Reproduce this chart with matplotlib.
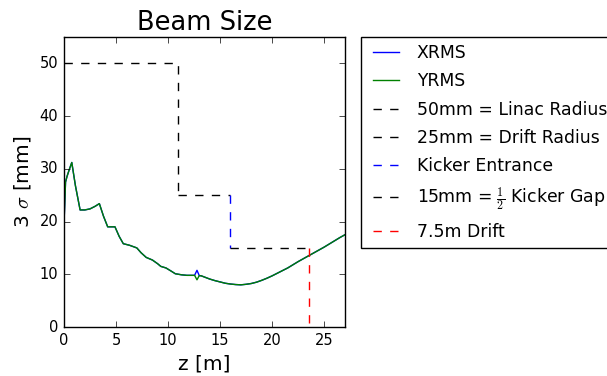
import matplotlib
matplotlib.use('Agg')
import matplotlib.pyplot as plt

plt.style.use('classic')

# beam envelope
z = [0, 0.15, 0.3, 0.5, 0.75, 1.1, 1.55, 2.0, 2.5, 3.0, 3.4, 3.8, 4.2, 4.9,
     5.3, 5.7, 6.3, 7.0, 7.4, 7.9, 8.5, 9.0, 9.3, 9.8, 10.3, 10.7, 11.3,
     11.8, 12.55, 12.78, 13.0, 13.2, 13.6, 14.0, 14.5, 15.0, 15.5, 16.0,
     16.5, 17.0, 17.5, 18.0, 18.5, 19.0, 19.5, 20.0, 20.5, 21.0, 21.5, 22.0,
     22.5, 23.0, 23.5, 24.0, 24.5, 25.0, 25.5, 26.0, 26.5, 27.0]
xrms = [19.5, 27.5, 28.6, 29.8, 31.2, 26.8, 22.2, 22.2, 22.4, 22.9, 23.4,
        21.0, 19.0, 19.0, 17.2, 15.8, 15.5, 15.0, 14.1, 13.2, 12.7, 12.0,
        11.5, 11.2, 10.6, 10.1, 9.9, 9.8, 9.8, 10.75, 9.75, 9.7, 9.4, 9.1,
        8.8, 8.55, 8.3, 8.15, 8.05, 8.0, 8.1, 8.25, 8.5, 8.85, 9.25, 9.7,
        10.2, 10.7, 11.2, 11.8, 12.4, 12.95, 13.5, 14.05, 14.6, 15.15, 15.75,
        16.35, 16.95, 17.5]
yrms = [19.5, 27.5, 28.6, 29.8, 31.2, 26.8, 22.2, 22.2, 22.4, 22.9, 23.4,
        21.0, 19.0, 19.0, 17.2, 15.8, 15.5, 15.0, 14.1, 13.2, 12.7, 12.0,
        11.5, 11.2, 10.6, 10.1, 9.9, 9.8, 9.8, 8.95, 9.75, 9.7, 9.4, 9.1,
        8.8, 8.55, 8.3, 8.15, 8.05, 8.0, 8.1, 8.25, 8.5, 8.85, 9.25, 9.7,
        10.2, 10.7, 11.2, 11.8, 12.4, 12.95, 13.5, 14.05, 14.6, 15.15, 15.75,
        16.35, 16.95, 17.5]

# apertures / markers
linac_z, linac_r = [0, 11, 11], [50, 50, 25]
drift_z, drift_r = [11, 16], [25, 25]
kick_z, kick_r = [16, 16], [25, 15]
gap_z, gap_r = [16, 23.5], [15, 15]
d75_z, d75_r = [23.5, 23.5], [15, 0]

fig = plt.figure(figsize=(6.07, 3.76), dpi=100, facecolor='white')
ax = fig.add_axes([0.1054, 0.1303, 0.4629, 0.7713])

ax.plot(z, xrms, 'b-', lw=1, label='XRMS')
ax.plot(z, yrms, 'g-', lw=1, label='YRMS')
ax.plot(linac_z, linac_r, 'k--', lw=1, label='50mm = Linac Radius')
ax.plot(drift_z, drift_r, 'k--', lw=1, label='25mm = Drift Radius')
ax.plot(kick_z, kick_r, 'b--', lw=1, label='Kicker Entrance')
ax.plot(gap_z, gap_r, 'k--', lw=1, label=r'15mm = $\frac{1}{2}$ Kicker Gap')
ax.plot(d75_z, d75_r, 'r--', lw=1, label='7.5m Drift')

ax.set_xlim(0, 27)
ax.set_ylim(0, 55)
ax.set_xticks([0, 5, 10, 15, 20, 25])
ax.set_yticks([0, 10, 20, 30, 40, 50])
ax.tick_params(labelsize=10.5)

ax.set_title('Beam Size', fontsize=18.5)
ax.set_xlabel('z [m]', fontsize=14.5)
ax.set_ylabel(r'3 $\sigma$ [mm]', fontsize=14.5)

ax.legend(loc=2, bbox_to_anchor=(1.057, 1.0), borderaxespad=0., fontsize=12.4,
          labelspacing=0.6, handlelength=2.1, handletextpad=0.75)

fig.savefig('out.png', dpi=100, facecolor='white')
